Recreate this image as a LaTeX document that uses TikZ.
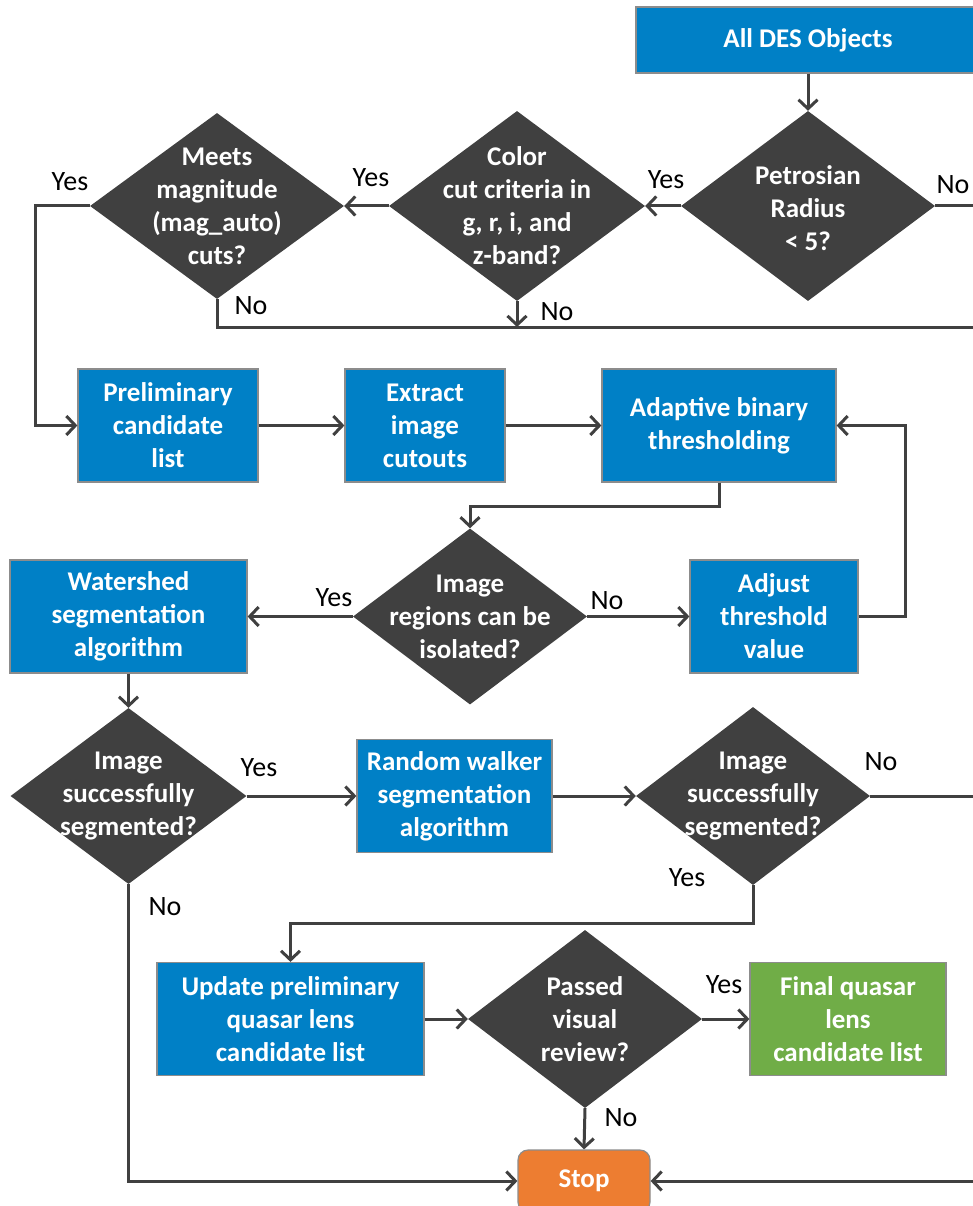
\documentclass[tikz,border=0pt]{standalone}
\usepackage{fontspec}
\setmainfont{Carlito}
\usetikzlibrary{shapes.geometric,arrows.meta}
\definecolor{desblue}{HTML}{0080C6}
\definecolor{diagray}{HTML}{404040}
\definecolor{linegray}{HTML}{404040}
\definecolor{boxline}{HTML}{8C8C8C}
\definecolor{desgreen}{HTML}{70AD47}
\definecolor{desorange}{HTML}{ED7D31}
\newcommand{\nodefont}{\fontsize{27}{33}\selectfont\bfseries}
\newcommand{\lblfont}{\fontsize{28}{30}\selectfont}
\begin{document}
\begin{tikzpicture}[x=1pt,y=-1pt,
  box/.style={draw=boxline, line width=1.2pt, fill=desblue, text=white, font=\nodefont, align=center, inner sep=0pt},
  dia/.style={diamond, fill=diagray, inner sep=0pt},
  dtext/.style={text=white, font=\nodefont, align=center, inner sep=0pt},
  lbl/.style={font=\lblfont, text=black, inner sep=0pt},
  conn/.style={draw=linegray, line width=3pt, -{Straight Barb[length=9pt,width=19pt]}},
  plainline/.style={draw=linegray, line width=3pt}]
\useasboundingbox (0,0) rectangle (972,1206);
% nodes row 1
\node[box, minimum width=344pt, minimum height=66pt] (des) at (808,40) {All DES Objects};
\node[dia, minimum width=254pt, minimum height=190pt] (pet) at (808,206) {};
\node[dtext] at ([yshift=-2pt]pet) {Petrosian\\Radius\\< 5?};
\node[dia, minimum width=256pt, minimum height=190pt] (col) at (517,206) {};
\node[dtext] at (col) {Color\\cut criteria in\\g, r, i, and\\z-band?};
\node[dia, minimum width=254pt, minimum height=186pt] (mag) at (217,206) {};
\node[dtext] at (mag) {Meets\\magnitude\\(mag\_auto)\\cuts?};
% row 2
\node[box, minimum width=180pt, minimum height=113pt] (prelim) at (168,425.5) {Preliminary\\candidate\\list};
\node[box, minimum width=160pt, minimum height=113pt] (extract) at (425,425.5) {Extract\\image\\cutouts};
\node[box, minimum width=234pt, minimum height=113pt] (adapt) at (719,425.5) {Adaptive binary\\thresholding};
\node[dia, minimum width=234pt, minimum height=176pt] (reg) at (470,616.5) {};
\node[dtext] at (reg) {Image\\regions can be\\isolated?};
\node[box, minimum width=237pt, minimum height=113pt] (water) at (128.5,616.5) {Watershed\\segmentation\\algorithm};
\node[box, minimum width=168pt, minimum height=113pt] (adjust) at (774,616.5) {Adjust\\threshold\\value};
% row 3
\node[dia, minimum width=236pt, minimum height=176pt] (seg1) at (128.5,796) {};
\node[dtext] at (seg1) {Image\\successfully\\segmented?};
\node[box, minimum width=195pt, minimum height=113pt] (rw) at (454.5,796) {Random walker\\segmentation\\algorithm};
\node[dia, minimum width=234pt, minimum height=178pt] (seg2) at (753,796) {};
\node[dtext] at (seg2) {Image\\successfully\\segmented?};
% row 4
\node[box, minimum width=267pt, minimum height=113pt] (upd) at (290.5,1019) {Update preliminary\\quasar lens\\candidate list};
\node[dia, minimum width=234pt, minimum height=178pt] (pass) at (585,1019) {};
\node[dtext] at (pass) {Passed\\visual\\review?};
\node[box, fill=desgreen, minimum width=196pt, minimum height=113pt] (final) at (848,1019) {Final quasar\\lens\\candidate list};
\node[box, fill=desorange, rounded corners=10pt, minimum width=132pt, minimum height=62pt] (stop) at (584,1181) {Stop};
% free ends
\coordinate (lx) at (35,206);
\coordinate (redge) at (975,206);
\coordinate (noline) at (975,327);
% connectors
\draw[conn] (des.south) -- (pet.north);
\draw[conn] (pet.west) -- (col.east);
\draw[conn] (col.west) -- (mag.east);
\draw[conn] (mag.west) -- (mag.west -| lx) |- (prelim.west);
\draw[plainline] (pet.east) -- (pet.east -| redge);
\draw[plainline] (mag.south) |- (noline);
\draw[conn] (col.south) -- (col.south |- noline);
\draw[conn] (prelim.east) -- (extract.west);
\draw[conn] (extract.east) -- (adapt.west);
\draw[conn] (adapt.south) -- ++(0,24) -| (reg.north);
\draw[conn] (reg.west) -- (water.east);
\draw[conn] (reg.east) -- (adjust.west);
\draw[conn] (adjust.east) -- ++(47,0) |- (adapt.east);
\draw[conn] (water.south) -- (seg1.north);
\draw[conn] (seg1.east) -- (rw.west);
\draw[conn] (rw.east) -- (seg2.west);
\draw[plainline] (seg2.east) -- (seg2.east -| redge);
\draw[conn] (seg2.south) -- ++(0,38) -| (upd.north);
\draw[conn] (seg1.south) |- (stop.west);
\draw[conn] (upd.east) -- (pass.west);
\draw[conn] (pass.east) -- (final.west);
\draw[conn] (pass.south) -- (stop.north);
\draw[conn] (stop.east -| redge) -- (stop.east);
% labels
\node[lbl] (l1) at (953,185) {No};
\node[lbl] (l2) at (666,180) {Yes};
\node[lbl] (l3) at (371,178) {Yes};
\node[lbl] (l4) at (70,182) {Yes};
\node[lbl] (l5) at (251,306) {No};
\node[lbl] (l6) at (557,312) {No};
\node[lbl] (l7) at (334,598) {Yes};
\node[lbl] (l8) at (607,601) {No};
\node[lbl] (l9) at (259,768) {Yes};
\node[lbl] (l10) at (165,907) {No};
\node[lbl] (l11) at (881,762) {No};
\node[lbl] (l12) at (687,878) {Yes};
\node[lbl] (l13) at (724,985) {Yes};
\node[lbl] (l14) at (621,1118) {No};
\end{tikzpicture}
\end{document}
